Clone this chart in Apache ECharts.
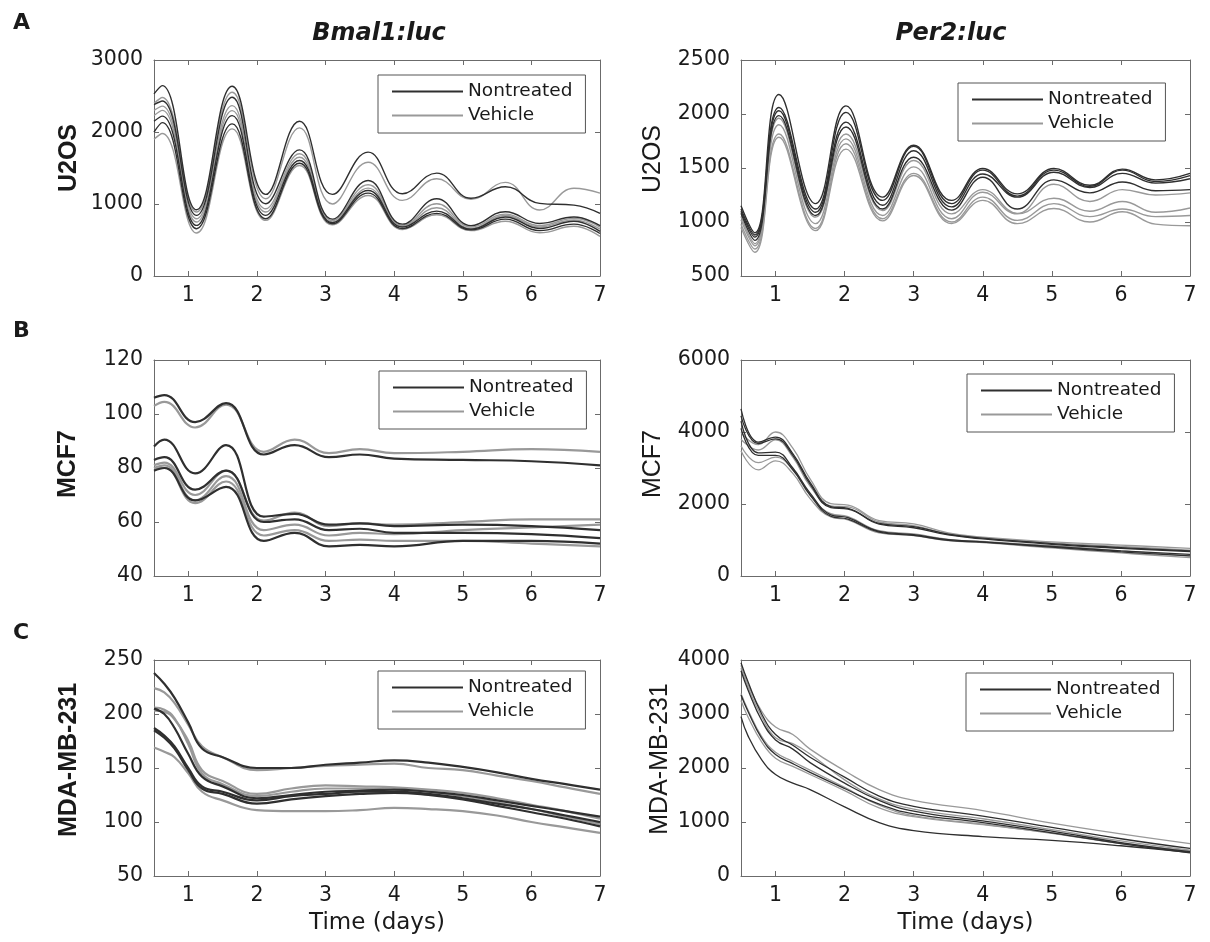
<!DOCTYPE html>
<html><head><meta charset="utf-8">
<script src="https://cdn.jsdelivr.net/npm/echarts@6/dist/echarts.min.js"></script>
<style>html,body{margin:0;padding:0;background:#fff}#c{width:1210px;height:942px}</style>
</head><body><div id="c"></div>
<script>
// ---------- tick labels ----------
const xTicks = [1, 2, 3, 4, 5, 6, 7];

// ---------- A: U2OS, Bmal1:luc ----------
const bmalU2osX = [0.5, 0.62, 1.12, 1.64, 2.13, 2.62, 3.1, 3.62, 4.12, 4.62, 5.12, 5.62, 6.12, 6.62, 7.0];
const bmalU2osNontreated = [
  [2530, 2644, 920, 2635, 1133, 2150, 1133, 1720, 1142, 1429, 1080, 1240, 1009, 985, 870],
  [2380, 2430, 842, 2482, 1003, 1752, 790, 1327, 720, 1073, 700, 893, 730, 820, 700],
  [2150, 2220, 703, 2228, 842, 1604, 740, 1188, 680, 901, 650, 820, 660, 760, 620],
  [2000, 2130, 657, 2113, 795, 1567, 725, 1151, 660, 870, 640, 790, 630, 720, 590]
];
const bmalU2osVehicle = [
  [2400, 2480, 888, 2552, 1073, 2057, 1000, 1580, 1050, 1350, 1065, 1300, 917, 1218, 1150],
  [2300, 2360, 795, 2367, 934, 1697, 770, 1267, 700, 1003, 680, 860, 700, 800, 680],
  [2230, 2300, 749, 2297, 888, 1650, 750, 1220, 690, 948, 660, 840, 680, 780, 650],
  [1900, 1980, 597, 2043, 772, 1535, 710, 1119, 645, 850, 630, 760, 600, 690, 550]
];

// ---------- A: U2OS, Per2:luc ----------
const perU2osX = [0.5, 0.7, 1.05, 1.58, 2.02, 2.55, 3.0, 3.55, 4.0, 4.5, 5.03, 5.55, 6.02, 6.5, 7.0];
const perU2osNontreated = [
  [1150, 900, 2180, 1170, 2075, 1230, 1710, 1200, 1495, 1260, 1495, 1340, 1490, 1390, 1450],
  [1120, 880, 2060, 1120, 2015, 1200, 1700, 1170, 1480, 1240, 1480, 1330, 1480, 1375, 1430],
  [1100, 860, 2030, 1090, 1925, 1155, 1660, 1140, 1445, 1230, 1460, 1320, 1450, 1360, 1400],
  [1080, 830, 1985, 1060, 1880, 1120, 1600, 1110, 1415, 1120, 1390, 1270, 1370, 1290, 1300]
];
const perU2osVehicle = [
  [1050, 800, 1960, 1045, 1815, 1105, 1570, 1075, 1300, 1080, 1350, 1190, 1300, 1250, 1270],
  [1020, 780, 1900, 985, 1770, 1060, 1510, 1030, 1275, 1075, 1220, 1100, 1190, 1090, 1130],
  [980, 750, 1815, 940, 1725, 1030, 1450, 1000, 1230, 1015, 1170, 1050, 1120, 1050, 1060],
  [950, 720, 1785, 920, 1675, 1010, 1430, 985, 1200, 985, 1125, 1000, 1095, 980, 965]
];

// ---------- B: MCF7, Bmal1:luc ----------
const bmalMcf7X = [0.5, 0.65, 1.1, 1.55, 2.1, 2.55, 3.05, 3.5, 4.0, 5.0, 6.0, 7.0];
const bmalMcf7Nontreated = [
  [106, 107, 97, 104, 85, 88.5, 84, 85, 83.5, 83, 82.5, 81],
  [88, 90.5, 78, 88.5, 62, 63, 59, 59.5, 58.5, 59, 58.5, 57],
  [83, 84, 72, 79, 60, 61, 57, 57.5, 56, 56, 55.5, 54],
  [79, 80, 68, 73, 53, 56, 51, 51.5, 51, 53, 53, 52]
];
const bmalMcf7Vehicle = [
  [103, 104.5, 95, 103.5, 86, 90.5, 85.5, 87, 85.5, 86, 87, 86],
  [81, 82, 70, 79, 60.5, 63.5, 58.5, 59.5, 59, 60, 61, 61],
  [80, 81, 68, 77, 57, 59, 55, 56, 55.5, 57, 58, 59],
  [80, 80, 67, 75, 55, 57, 53, 53.5, 53, 53, 52, 51]
];

// ---------- B: MCF7, Per2:luc ----------
const perMcf7X = [0.5, 0.75, 1.0, 1.25, 1.5, 1.8, 2.05, 2.5, 3.0, 3.5, 4.0, 5.0, 6.0, 7.0];
const perMcf7Nontreated = [
  [4640, 3720, 3860, 3400, 2600, 1930, 1880, 1460, 1370, 1160, 1050, 900, 790, 700],
  [4450, 3680, 3810, 3350, 2550, 1900, 1860, 1440, 1340, 1140, 1030, 880, 770, 680],
  [4300, 3420, 3440, 3000, 2300, 1700, 1620, 1240, 1150, 1010, 950, 820, 700, 600],
  [4100, 3350, 3350, 2950, 2250, 1660, 1580, 1220, 1130, 990, 940, 800, 670, 560]
];
const perMcf7Vehicle = [
  [3990, 3650, 4000, 3550, 2700, 2010, 1970, 1540, 1450, 1200, 1080, 950, 860, 770],
  [3800, 3500, 3780, 3300, 2500, 1950, 1920, 1500, 1400, 1170, 1060, 920, 820, 720],
  [3620, 3150, 3300, 2950, 2250, 1730, 1650, 1260, 1170, 1020, 960, 840, 700, 560],
  [3480, 2950, 3200, 2850, 2150, 1640, 1560, 1200, 1120, 980, 930, 780, 640, 510]
];

// ---------- C: MDA-MB-231, Bmal1:luc ----------
const bmalMdaX = [0.5, 0.65, 0.8, 1.0, 1.2, 1.5, 2.0, 2.5, 3.0, 3.5, 4.0, 4.5, 5.0, 5.5, 6.0, 6.5, 7.0];
const bmalMdaNontreated = [
  [238, 228, 215, 192, 168, 160, 150, 150, 153, 155, 157, 155, 151, 146, 140, 135, 130],
  [205, 200, 187, 163, 142, 133, 122, 125, 128, 129, 130, 128, 125, 120, 115, 110, 105],
  [187, 180, 170, 150, 133, 128, 120, 124, 126, 128, 128, 126, 122, 117, 112, 106, 100],
  [185, 178, 168, 148, 131, 126, 117, 121, 124, 126, 127, 125, 121, 115, 109, 103, 96]
];
const bmalMdaVehicle = [
  [224, 220, 210, 190, 170, 160, 148, 150, 152, 153, 154, 150, 148, 143, 138, 132, 126],
  [203, 202, 195, 175, 148, 138, 126, 131, 134, 133, 132, 130, 127, 122, 116, 110, 103],
  [206, 204, 196, 172, 145, 135, 124, 128, 131, 131, 130, 128, 124, 118, 112, 105, 98],
  [169, 165, 160, 145, 128, 120, 111, 110, 110, 111, 113, 112, 110, 106, 100, 95, 90]
];

// ---------- C: MDA-MB-231, Per2:luc ----------
const perMdaX = [0.5, 0.6, 0.8, 1.0, 1.25, 1.5, 2.0, 2.5, 3.0, 4.0, 5.0, 6.0, 7.0];
const perMdaNontreated = [
  [3950, 3600, 3000, 2620, 2420, 2200, 1830, 1480, 1290, 1110, 900, 690, 510],
  [3800, 3450, 2880, 2520, 2350, 2100, 1720, 1400, 1200, 1020, 830, 620, 450],
  [3350, 3050, 2550, 2250, 2080, 1920, 1620, 1330, 1150, 990, 800, 600, 430],
  [2950, 2600, 2150, 1880, 1720, 1600, 1280, 990, 840, 730, 660, 560, 440]
];
const perMdaVehicle = [
  [3900, 3550, 3050, 2760, 2620, 2350, 1950, 1600, 1400, 1210, 980, 780, 600],
  [3850, 3500, 2950, 2560, 2450, 2260, 1780, 1430, 1240, 1060, 860, 650, 480],
  [3380, 3080, 2580, 2290, 2120, 1960, 1640, 1310, 1120, 960, 790, 600, 450],
  [3250, 2950, 2480, 2180, 2030, 1880, 1580, 1260, 1100, 950, 800, 610, 470]
];

// ---------- layout / style ----------
const DARK = '#2f2f2f', GRAY = '#999999', AXIS = '#6b6b6b', TXT = '#1a1a1a';
const colLeft = [154, 741], colWidth = [446, 449], rowTop = [60, 360, 660], plotH = 216;

const panels = [
  {xs: bmalU2osX, n: bmalU2osNontreated, v: bmalU2osVehicle, yMin: 0, yMax: 3000, yStep: 1000, yName: 'U2OS', col: 0, row: 0, gap: 72.5, shift: 10, lw: 1.4, leg: [378, 75]},
  {xs: perU2osX, n: perU2osNontreated, v: perU2osVehicle, yMin: 500, yMax: 2500, yStep: 500, yName: 'U2OS', col: 1, row: 0, gap: 75, shift: 9, lw: 1.4, leg: [958, 83]},
  {xs: bmalMcf7X, n: bmalMcf7Nontreated, v: bmalMcf7Vehicle, yMin: 40, yMax: 120, yStep: 20, yName: 'MCF7', col: 0, row: 1, gap: 73.5, shift: 4, lw: 2.2, leg: [379, 371]},
  {xs: perMcf7X, n: perMcf7Nontreated, v: perMcf7Vehicle, yMin: 0, yMax: 6000, yStep: 2000, yName: 'MCF7', col: 1, row: 1, gap: 75, shift: 4, lw: 1.3, leg: [967, 374]},
  {xs: bmalMdaX, n: bmalMdaNontreated, v: bmalMdaVehicle, yMin: 50, yMax: 250, yStep: 50, yName: 'MDA-MB-231', col: 0, row: 2, gap: 72.5, shift: 8, lw: 2.2, leg: [378, 671]},
  {xs: perMdaX, n: perMdaNontreated, v: perMdaVehicle, yMin: 0, yMax: 4000, yStep: 1000, yName: 'MDA-MB-231', col: 1, row: 2, gap: 68.5, shift: 9, lw: 1.3, leg: [966, 673]}
];

const grid = [], xAxis = [], yAxis = [], series = [], legend = [];
const axisLine = {show: true, onZero: false, lineStyle: {color: AXIS, width: 1}};
const tickStyle = {color: AXIS, width: 1};
const plain = v => String(v);
const labelFont = {fontSize: 20.5, fontFamily: 'DejaVu Sans', color: TXT, formatter: plain};

panels.forEach((p, i) => {
  grid.push({left: colLeft[p.col], top: rowTop[p.row], width: colWidth[p.col], height: plotH, outerBoundsMode: 'none', containLabel: false});
  xAxis.push({
    gridIndex: i, type: 'value', position: 'bottom', min: 0.5, max: 7,
    axisLine, splitLine: {show: false},
    axisTick: {show: true, inside: true, length: 5, lineStyle: tickStyle, customValues: xTicks},
    axisLabel: Object.assign({show: true, margin: 9, customValues: xTicks}, labelFont),
    name: p.row === 2 ? 'Time (days)' : '', nameLocation: 'middle', nameGap: 36,
    nameTextStyle: {fontSize: 23, fontFamily: 'DejaVu Sans', color: TXT}
  });
  xAxis.push({
    gridIndex: i, type: 'value', position: 'top', min: 0.5, max: 7,
    axisLine, splitLine: {show: false},
    axisTick: {show: true, inside: true, length: 5, lineStyle: tickStyle, customValues: xTicks.slice(0, -1)},
    axisLabel: {show: false}
  });
  yAxis.push({
    gridIndex: i, type: 'value', position: 'left', min: p.yMin, max: p.yMax, interval: p.yStep,
    axisLine, splitLine: {show: false},
    axisTick: {show: true, inside: true, length: 5, lineStyle: tickStyle},
    axisLabel: Object.assign({show: true, margin: 11}, labelFont),
    name: p.yName, nameLocation: 'middle', nameGap: p.gap, nameRotate: 90,
    nameTextStyle: {fontFamily: 'Liberation Sans', fontSize: 25, fontWeight: p.col === 0 ? 'bold' : 'normal', color: TXT, padding: [0, 0, 0, p.shift * 2]}
  });
  yAxis.push({
    gridIndex: i, type: 'value', position: 'right', min: p.yMin, max: p.yMax, interval: p.yStep,
    axisLine, splitLine: {show: false},
    axisTick: {show: true, inside: true, length: 5, lineStyle: tickStyle},
    axisLabel: {show: false}
  });
  const mk = (name, color, vals) => ({
    name, type: 'line', xAxisIndex: 2 * i, yAxisIndex: 2 * i,
    data: p.xs.map((x, k) => [x, vals[k]]),
    symbol: 'none', showSymbol: false, smooth: 0.45, silent: true,
    lineStyle: {color, width: p.lw}, itemStyle: {color}
  });
  p.v.forEach(vals => series.push(mk('Vehicle', GRAY, vals)));
  p.n.forEach(vals => series.push(mk('Nontreated', DARK, vals)));
  legend.push({
    orient: 'vertical', left: p.leg[0], top: p.leg[1], padding: [7, 13, 8, 14],
    itemGap: 5, itemWidth: 71, itemHeight: 2, icon: 'rect', selectedMode: false,
    borderColor: '#555', borderWidth: 1, backgroundColor: '#fff',
    data: ['Nontreated', 'Vehicle'],
    textStyle: {fontSize: 18.5, fontFamily: 'DejaVu Sans', color: TXT}
  });
});

const letterStyle = {fontSize: 22, fontWeight: 'bold', fontFamily: 'DejaVu Sans', color: TXT};
const headStyle = {fontSize: 24, fontWeight: 'bold', fontStyle: 'italic', fontFamily: 'DejaVu Sans', color: TXT};

const chart = echarts.init(document.getElementById('c'), null, {renderer: 'canvas'});
chart.setOption({
  backgroundColor: '#ffffff',
  animation: false,
  title: [
    {text: 'A', left: 13, top: 12, padding: 0, textStyle: letterStyle},
    {text: 'B', left: 13, top: 320, padding: 0, textStyle: letterStyle},
    {text: 'C', left: 13, top: 622, padding: 0, textStyle: letterStyle},
    {text: 'Bmal1:luc', left: 379, top: 22, padding: 0, textAlign: 'center', textStyle: headStyle},
    {text: 'Per2:luc', left: 951, top: 22, padding: 0, textAlign: 'center', textStyle: headStyle}
  ],
  grid, xAxis, yAxis, series, legend
});
</script>
</body></html>
